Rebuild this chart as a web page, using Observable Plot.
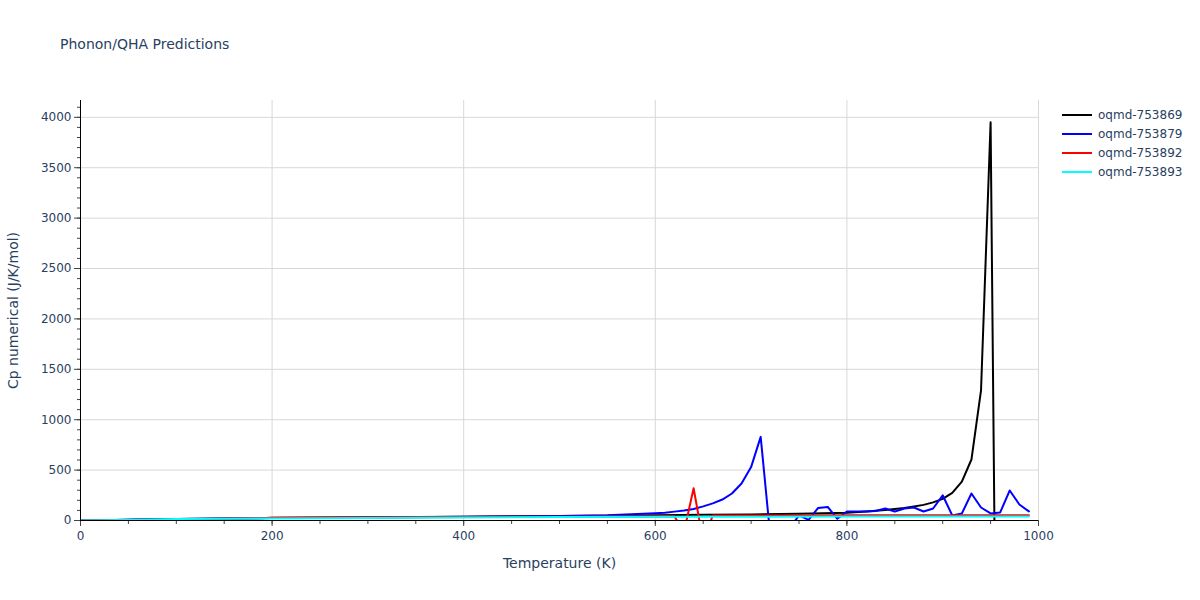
<!DOCTYPE html>
<html>
<head>
<meta charset="utf-8">
<script src="https://cdn.jsdelivr.net/npm/d3@7"></script>
<script src="https://cdn.jsdelivr.net/npm/@observablehq/plot@0.6"></script>
<style>
  html, body { margin: 0; padding: 0; background: #fff; }
  #wrap { position: relative; width: 1200px; height: 600px; font-family: "DejaVu Sans", Verdana, sans-serif; color: #2a3f5f; }
  #title { position: absolute; left: 60px; top: 36px; font-size: 14px; }
  #legend { position: absolute; left: 1062px; top: 105px; font-size: 12px; }
  .li { display: flex; align-items: center; height: 19px; }
  .sw { width: 30px; height: 2px; margin-right: 6px; }
</style>
</head>
<body>
<div id="wrap">
  <div id="chart"></div>
  <div id="title">Phonon/QHA Predictions</div>
  <div id="legend"></div>
</div>
<script>
const seriesNames = ["oqmd-753869", "oqmd-753879", "oqmd-753892", "oqmd-753893"];
const seriesColors = ["#000000", "#0000ff", "#ff0000", "#00ffff"];

const blackT = [0, 10, 20, 50, 100, 150, 200, 300, 400, 500, 550, 600, 650, 700, 750, 800, 820, 840, 850, 860, 870, 880, 890, 900, 910, 920, 930, 940, 950, 960, 970, 980, 990];
const blackCp = [0, 1, 3, 8, 15, 20, 25, 32, 38, 45, 48, 52, 56, 60, 66, 78, 90, 105, 115, 125, 140, 155, 180, 215, 275, 385, 605, 1290, 3950, -6000, -2000, -1000, -600];

const blueT = [0, 10, 20, 50, 100, 150, 200, 300, 400, 500, 550, 600, 610, 620, 630, 640, 650, 660, 670, 680, 690, 700, 710, 720, 730, 740, 750, 760, 770, 780, 790, 800, 810, 820, 830, 840, 850, 860, 870, 880, 890, 900, 910, 920, 930, 940, 950, 960, 970, 980, 990];
const blueCp = [0, 1, 3, 8, 14, 19, 24, 31, 37, 45, 52, 72, 78, 88, 100, 115, 140, 170, 208, 268, 367, 530, 830, -150, -200, -80, 50, 7, 125, 135, 17, 89, 90, 90, 95, 119, 89, 119, 129, 89, 119, 250, 50, 70, 268, 129, 70, 80, 298, 159, 90];

const redT = [0, 50, 100, 150, 190, 200, 300, 400, 500, 600, 610, 620, 630, 640, 650, 660, 700, 800, 900, 990];
const redCp = [0, 5, 12, 18, 22, 30, 32, 35, 38, 40, 42, 40, -110, 320, -210, 50, 50, 52, 52, 52];

const cyanT = [0, 50, 100, 150, 200, 300, 400, 500, 600, 700, 800, 900, 990];
const cyanCp = [0, 5, 15, 17, 20, 25, 30, 35, 37, 38, 40, 40, 40];

const tempTicks = [0, 200, 400, 600, 800, 1000];
const cpTicks = [0, 500, 1000, 1500, 2000, 2500, 3000, 3500, 4000];

const rows = [];
[[blackT, blackCp], [blueT, blueCp], [redT, redCp], [cyanT, cyanCp]].forEach(([ts, cs], i) => {
  ts.forEach((t, j) => rows.push({series: seriesNames[i], T: t, Cp: cs[j]}));
});

const minorX = d3.range(0, 1001, 50);
const minorY = d3.range(0, 4101, 100);

const chart = Plot.plot({
  width: 1200,
  height: 600,
  marginLeft: 80,
  marginRight: 162,
  marginTop: 100,
  marginBottom: 80,
  style: {fontFamily: "DejaVu Sans, Verdana, sans-serif", fontSize: "12px", color: "#2a3f5f", background: "#fff"},
  x: {domain: [0, 1000]},
  y: {domain: [0, 4167]},
  color: {domain: seriesNames, range: seriesColors},
  marks: [
    Plot.gridX(tempTicks, {stroke: "#d8d8d8", strokeOpacity: 1}),
    Plot.gridY(cpTicks, {stroke: "#d8d8d8", strokeOpacity: 1}),
    Plot.line(rows, {x: "T", y: "Cp", z: "series", stroke: "series", strokeWidth: 2, clip: true}),
    Plot.axisX(minorX, {tickSize: 4, text: null, stroke: "#444", label: null}),
    Plot.axisX(tempTicks, {tickSize: 6, tickPadding: 5, stroke: "#444", fill: "#2a3f5f", tickFormat: d3.format("d"), label: "Temperature (K)", labelAnchor: "center", labelArrow: "none", labelOffset: 47}),
    Plot.axisY(minorY, {tickSize: 3, text: null, stroke: "#444", label: null}),
    Plot.axisY(cpTicks, {tickSize: 6, tickPadding: 3, stroke: "#444", fill: "#2a3f5f", tickFormat: d3.format("d"), label: "Cp numerical (J/K/mol)", labelAnchor: "center", labelArrow: "none", labelOffset: 72}),
    Plot.ruleY([0], {stroke: "#000", strokeWidth: 1}),
    Plot.ruleX([0], {stroke: "#000", strokeWidth: 1})
  ]
});
document.getElementById("chart").appendChild(chart);

chart.querySelectorAll("[aria-label='x-axis label'] text, [aria-label='y-axis label'] text").forEach(t => t.style.fontSize = "14px");

const legend = document.getElementById("legend");
seriesNames.forEach((n, i) => {
  const row = document.createElement("div");
  row.className = "li";
  const sw = document.createElement("div");
  sw.className = "sw";
  sw.style.background = seriesColors[i];
  const lab = document.createElement("span");
  lab.textContent = n;
  row.appendChild(sw);
  row.appendChild(lab);
  legend.appendChild(row);
});
</script>
</body>
</html>
